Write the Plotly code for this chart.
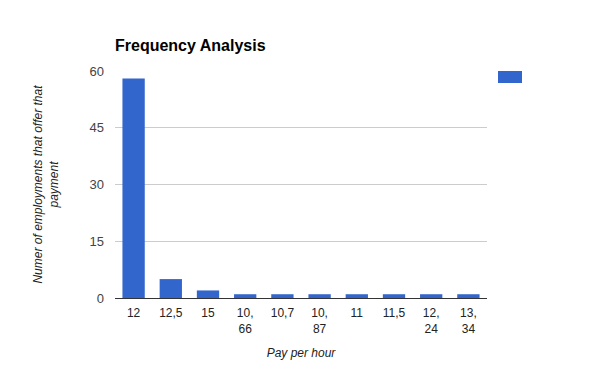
import plotly.graph_objects as go

categories = ["12", "12,5", "15", "10,<br>66", "10,7", "10,<br>87", "11", "11,5", "12,<br>24", "13,<br>34"]
values = [58, 5, 2, 1, 1, 1, 1, 1, 1, 1]
y_ticks = [0, 15, 30, 45, 60]

FONT = "Liberation Sans, Arial, sans-serif"
BLUE = "#3366cc"

# page body adds ~8px offset; compensate
L, T = 107, 63
PW, PH = 372, 227

fig = go.Figure()
fig.add_trace(go.Bar(x=categories, y=values, marker=dict(color=BLUE, line=dict(width=0)),
                     showlegend=False))

fig.update_layout(
    width=600, height=371,
    margin=dict(l=L, r=600 - L - PW, t=T, b=371 - T - PH),
    paper_bgcolor="white", plot_bgcolor="white",
    bargap=0.4,
    font=dict(family=FONT, size=12, color="#444444"),
    title=dict(text="<b>Frequency Analysis</b>", x=(115 - 8) / 600, xanchor="left",
               y=1 - (45 - 8) / 371, yanchor="middle", pad=dict(l=0, r=0, t=0, b=0),
               font=dict(family=FONT, size=16, color="#000000")),
    xaxis=dict(type="category", showgrid=False, showline=False, ticks="", automargin=False,
               ticklabelstandoff=6,
               tickfont=dict(size=12, color="#222222"),
               title=dict(text="<i>Pay per hour</i>", standoff=14,
                          font=dict(size=12, color="#222222"))),
    yaxis=dict(range=[0, 60], tickvals=y_ticks, showgrid=True, gridcolor="#cccccc",
               gridwidth=1, zeroline=True, zerolinecolor="#333333", zerolinewidth=1,
               showline=False, ticks="", ticklabelstandoff=10, automargin=False,
               tickfont=dict(size=13, color="#444444"),
               title=dict(text="<i>Numer of employments that offer that<br>payment</i>",
                          standoff=28, font=dict(size=12, color="#222222"))),
    shapes=[dict(type="rect", xref="paper", yref="paper",
                 x0=(498 - 115) / PW, x1=(522 - 115) / PW,
                 y0=(298 - 83) / PH, y1=(298 - 71) / PH,
                 fillcolor=BLUE, line=dict(width=0))],
)

fig.write_html("out.html")
